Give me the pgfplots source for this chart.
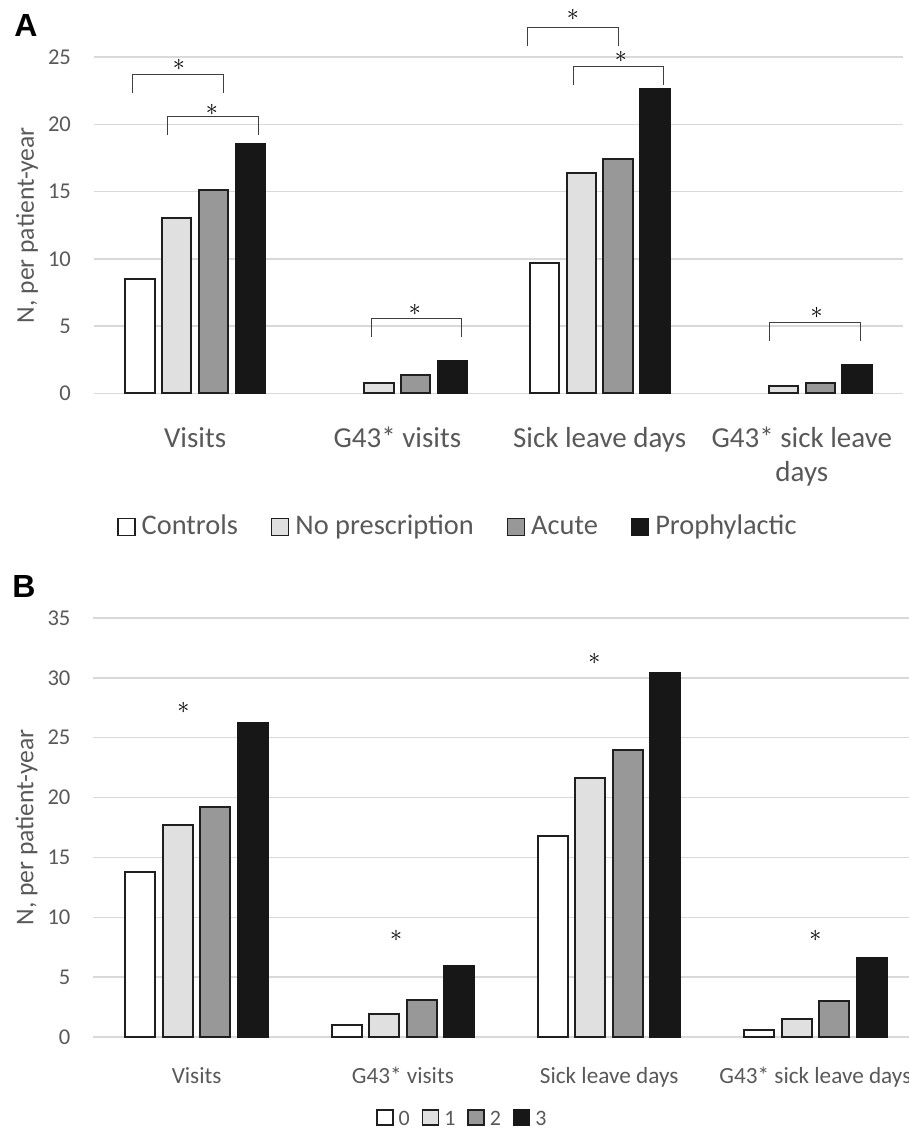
\documentclass[border=0pt]{standalone}
\usepackage{pgfplots}
\pgfplotsset{compat=1.18}
\usepackage{fontspec}
\setmainfont{Carlito}
\newfontfamily\arialfont{Liberation Sans}
\definecolor{txt}{HTML}{595959}
\definecolor{grd}{HTML}{D9D9D9}
\definecolor{cB}{HTML}{E0E0E0}
\definecolor{cC}{HTML}{989898}
\definecolor{cD}{HTML}{171717}
\definecolor{edge}{HTML}{1F1F1F}
\definecolor{brk}{HTML}{3F3F3F}

\tikzset{
  brack/.style={draw=brk, line width=0.5pt},
  star/.style={font=\fontsize{13}{13}\selectfont, text=black, inner sep=0pt},
}
\pgfplotsset{
  panel/.style={
    scale only axis, ybar,
    xmin=-0.5, xmax=3.5, ymin=0,
    xtick={0,1,2,3},
    axis line style={draw=none},
    major tick style={draw=none},
    ymajorgrids, grid style={draw=grd, line width=0.75pt},
    bar width=0.145,
    clip=false,
    /pgf/number format/assume math mode=true,
    yticklabel style={text=txt, xshift=-8pt, font=\fontsize{11.3}{13}\selectfont},
    xticklabel style={text=txt, align=center},
    ylabel={N, per patient-year},
    ylabel style={text=txt, anchor=center, font=\fontsize{12.8}{14}\selectfont},
    legend cell align=left,
  },
  s0/.style={fill=white, draw=edge, line width=1pt, bar shift=-0.273},
  s1/.style={fill=cB, draw=edge, line width=1pt, bar shift=-0.091},
  s2/.style={fill=cC, draw=edge, line width=1pt, bar shift=0.091},
  s3/.style={fill=cD, draw=cD, line width=1pt, bar shift=0.273},
}

\begin{document}
\begin{tikzpicture}
\useasboundingbox (0,0) rectangle (454.5pt,-565.5pt);

% ---------------- Panel A ----------------
\node[anchor=base west, inner sep=0pt, font=\arialfont\bfseries\fontsize{16}{16}\selectfont] at (7pt,-18pt) {A};
\begin{axis}[panel,
  at={(47pt,-196.65pt)}, anchor=south west,
  width=404.5pt, height=168.15pt,
  ymax=25, ytick={0,5,...,25},
  xticklabels={{\strut Visits}, {\strut G43* visits}, {\strut Sick leave days}, {\strut G43* sick leave\\days}},
  xticklabel style={font=\fontsize{14.5}{17}\selectfont, anchor=north, inner sep=0pt, yshift=-10.6pt},
  ylabel style={at={(axis description cs:-0.0828,0.5)}},
  legend style={draw=none, fill=none, at={(axis description cs:0.4523,-0.3976)}, anchor=center,
    legend columns=4, font=\fontsize{14.2}{16}\selectfont, text=txt,
    nodes={inner xsep=3pt, inner ysep=1pt, text height=10pt, text depth=3pt},
    /tikz/every even column/.append style={column sep=13.5pt}},
  legend image code/.code={\draw[#1, line width=0.7pt] (0pt,-4.3pt) rectangle (8.5pt,4.2pt);},
]
\addplot[s0] coordinates {(0,8.5) (2,9.7)};
\addplot[s1] coordinates {(0,13.0) (1,0.8) (2,16.4) (3,0.55)};
\addplot[s2] coordinates {(0,15.1) (1,1.35) (2,17.4) (3,0.75)};
\addplot[s3] coordinates {(0,18.5) (1,2.4) (2,22.6) (3,2.1)};
\legend{Controls, No prescription, Acute, Prophylactic}
% significance brackets
\draw[brack] (axis cs:-0.308,22.3) |- (axis cs:0.139,23.7) -- (axis cs:0.139,22.3);
\node[star] at (axis cs:-0.08,24.4) {$\ast$};
\draw[brack] (axis cs:-0.139,19.2) |- (axis cs:0.312,20.6) -- (axis cs:0.312,19.2);
\node[star] at (axis cs:0.083,21.1) {$\ast$};
\draw[brack] (axis cs:0.87,4.15) |- (axis cs:1.317,5.53) -- (axis cs:1.317,4.15);
\node[star] at (axis cs:1.086,6.2) {$\ast$};
\draw[brack] (axis cs:1.644,25.8) |- (axis cs:2.092,27.2) -- (axis cs:2.092,25.8);
\node[star] at (axis cs:1.868,28.1) {$\ast$};
\draw[brack] (axis cs:1.87,22.9) |- (axis cs:2.317,24.3) -- (axis cs:2.317,22.9);
\node[star] at (axis cs:2.105,25.0) {$\ast$};
\draw[brack] (axis cs:2.842,3.87) |- (axis cs:3.29,5.25) -- (axis cs:3.29,3.87);
\node[star] at (axis cs:3.073,5.95) {$\ast$};
\end{axis}

% ---------------- Panel B ----------------
\node[anchor=base west, inner sep=0pt, font=\arialfont\bfseries\fontsize{16}{16}\selectfont] at (6pt,-298.5pt) {B};
\begin{axis}[panel,
  at={(46.75pt,-518.5pt)}, anchor=south west,
  width=412.5pt, height=209.5pt,
  ymax=35, ytick={0,5,...,35},
  xticklabels={Visits, G43* visits, Sick leave days, G43* sick leave days},
  xticklabel style={font=\fontsize{11.6}{13}\selectfont, anchor=base, yshift=-19pt},
  ylabel style={at={(axis description cs:-0.0812,0.5)}},
  legend style={draw=none, fill=none, at={(axis description cs:0.449,-0.1957)}, anchor=center,
    legend columns=4, font=\fontsize{11}{12}\selectfont, text=txt,
    nodes={inner xsep=2.5pt, inner ysep=0.5pt, text height=8pt, text depth=2pt},
    /tikz/every even column/.append style={column sep=3.5pt}},
  legend image code/.code={\draw[#1, line width=0.7pt] (0pt,-3pt) rectangle (8pt,4.5pt);},
]
\addplot[s0] coordinates {(0,13.8) (1,1.0) (2,16.8) (3,0.58)};
\addplot[s1] coordinates {(0,17.7) (1,1.95) (2,21.6) (3,1.53)};
\addplot[s2] coordinates {(0,19.2) (1,3.1) (2,24.0) (3,3.0)};
\addplot[s3] coordinates {(0,26.2) (1,5.96) (2,30.4) (3,6.63)};
\legend{0, 1, 2, 3}
\node[star] at (axis cs:-0.064,27.46) {$\ast$};
\node[star] at (axis cs:0.967,8.44) {$\ast$};
\node[star] at (axis cs:1.928,31.55) {$\ast$};
\node[star] at (axis cs:3.0,8.44) {$\ast$};
\end{axis}
\end{tikzpicture}
\end{document}
